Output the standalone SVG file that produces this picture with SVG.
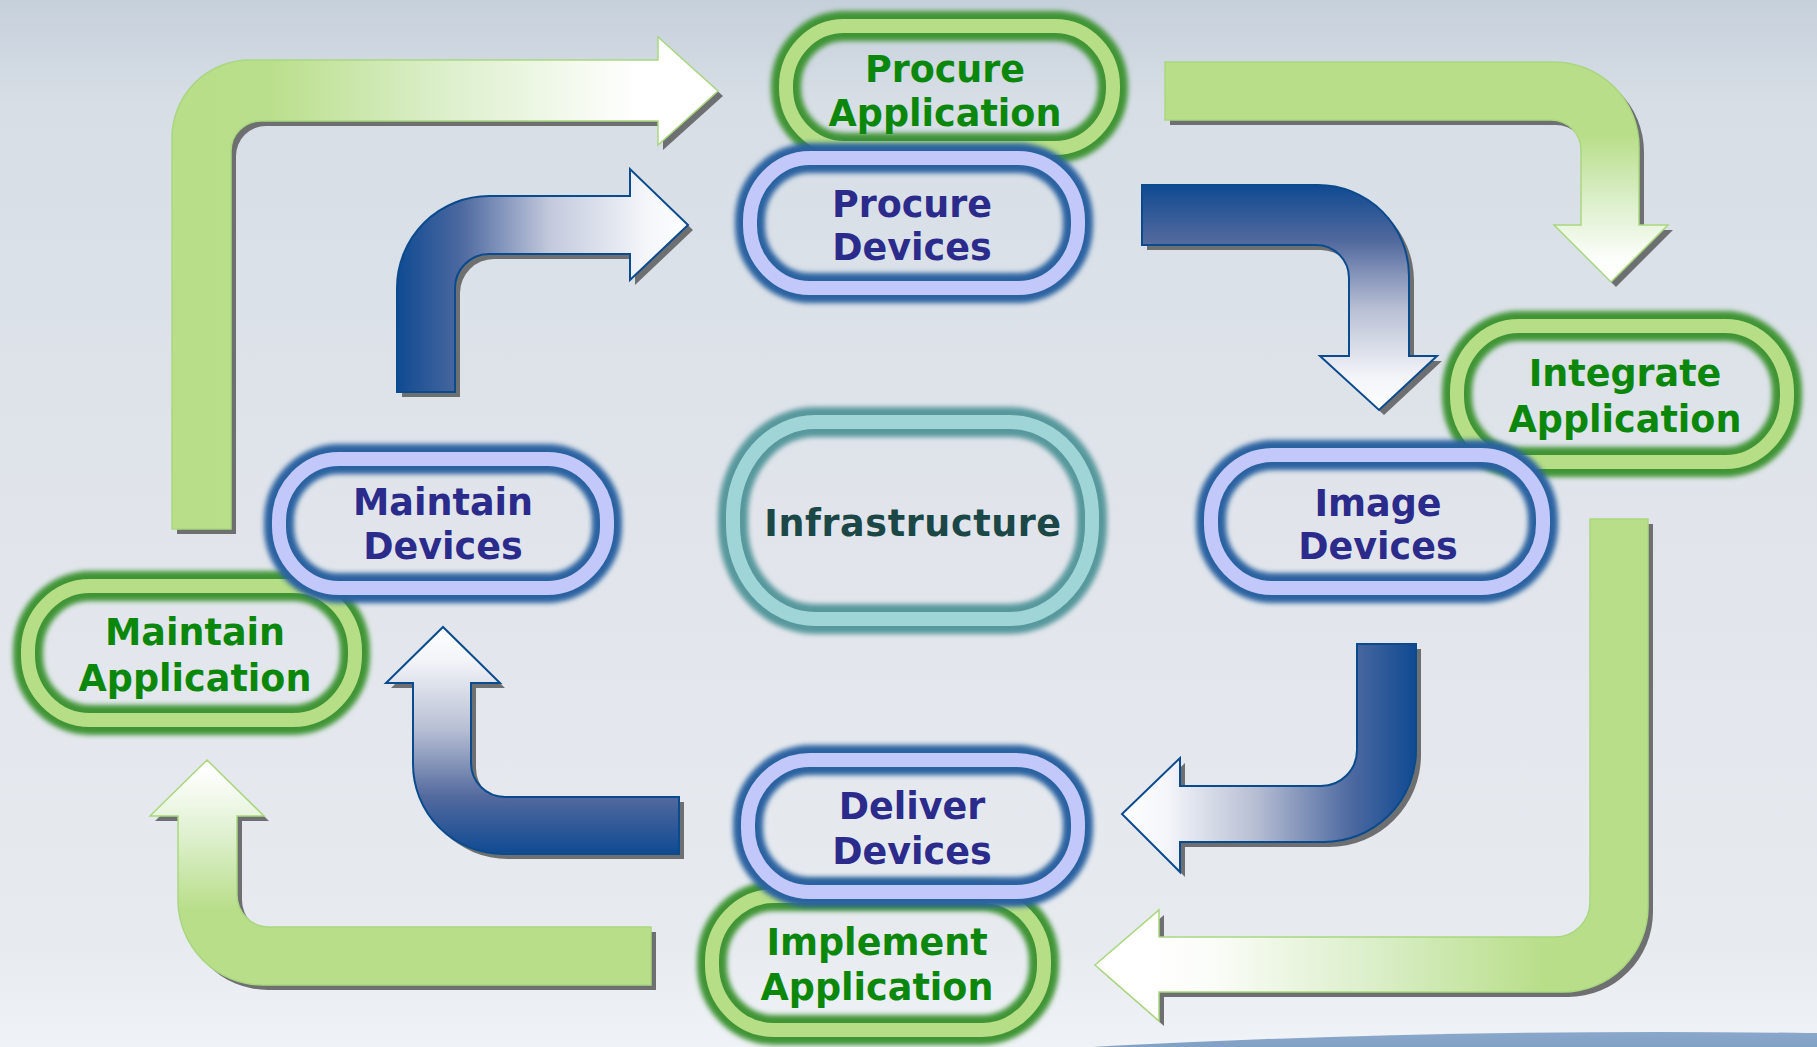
<svg xmlns="http://www.w3.org/2000/svg" xmlns:xlink="http://www.w3.org/1999/xlink" width="1817" height="1047" viewBox="0 0 1817 1047">
<defs>
<style>
.t{font-family:"DejaVu Sans",Verdana,sans-serif;font-weight:bold;font-size:36.5px;text-anchor:middle}
.tg{fill:#0b870b}
.tb{fill:#2b2b8c}
.tt{fill:#1c4747}
.ring-glow{fill:none;stroke-width:30;filter:url(#soft)}
.ring{fill:none;stroke-width:14}
.g .ring-glow{stroke:#3f9436}
.g .ring{stroke:#b6de86}
.b .ring-glow{stroke:#2a62a0}
.b .ring{stroke:#c3c8fa}
.c .ring-glow{stroke:#56989c}
.c .ring{stroke:#a0d5d8}
.shadow{fill:#6e6f71}
.ga{stroke:#a9d77f;stroke-width:1.5}
.ba{stroke:#0a4b8e;stroke-width:2}
</style>
<filter id="soft" x="-10%" y="-20%" width="120%" height="140%"><feGaussianBlur stdDeviation="2.8"/></filter>
<linearGradient id="bg" x1="0" y1="0" x2="0" y2="1">
<stop offset="0" stop-color="#c6d0db"/>
<stop offset="0.1" stop-color="#d7dee6"/>
<stop offset="0.5" stop-color="#e1e5eb"/>
<stop offset="0.9" stop-color="#e7ebf0"/>
<stop offset="1" stop-color="#eff2f6"/>
</linearGradient>
<linearGradient id="arc" x1="0" y1="0" x2="0" y2="1">
<stop offset="0" stop-color="#8aa8ca"/>
<stop offset="0.15" stop-color="#6a8fb8"/>
<stop offset="1" stop-color="#4a6f9c"/>
</linearGradient>
<radialGradient id="glowbot" cx="0.5" cy="1" r="0.6">
<stop offset="0" stop-color="#ffffff" stop-opacity="0.9"/>
<stop offset="1" stop-color="#ffffff" stop-opacity="0"/>
</radialGradient>
<linearGradient id="gG1" gradientUnits="userSpaceOnUse" x1="172" y1="0" x2="718" y2="0">
<stop offset="0" stop-color="#b8de89"/>
<stop offset="0.18" stop-color="#badf8c"/>
<stop offset="0.5" stop-color="#dcefcb"/>
<stop offset="0.85" stop-color="#ffffff"/>
<stop offset="1" stop-color="#ffffff"/>
</linearGradient>
<linearGradient id="gG2" gradientUnits="userSpaceOnUse" x1="0" y1="135" x2="0" y2="282">
<stop offset="0" stop-color="#b8de89"/>
<stop offset="0.45" stop-color="#dcefcb"/>
<stop offset="0.85" stop-color="#fcfefb"/>
<stop offset="1" stop-color="#ffffff"/>
</linearGradient>
<linearGradient id="gG3" gradientUnits="userSpaceOnUse" x1="1545" y1="0" x2="1150" y2="0">
<stop offset="0" stop-color="#b8de89"/>
<stop offset="0.45" stop-color="#dcefcb"/>
<stop offset="0.85" stop-color="#fbfdf9"/>
<stop offset="1" stop-color="#ffffff"/>
</linearGradient>
<linearGradient id="gG4" gradientUnits="userSpaceOnUse" x1="0" y1="910" x2="0" y2="770">
<stop offset="0" stop-color="#b8de89"/>
<stop offset="0.5" stop-color="#dcefcb"/>
<stop offset="1" stop-color="#ffffff"/>
</linearGradient>
<linearGradient id="gB1" gradientUnits="userSpaceOnUse" x1="397" y1="0" x2="690" y2="0">
<stop offset="0" stop-color="#0f4a92"/>
<stop offset="0.22" stop-color="#4d69a0"/>
<stop offset="0.52" stop-color="#c2c9dc"/>
<stop offset="0.85" stop-color="#f4f6fa"/>
<stop offset="1" stop-color="#ffffff"/>
</linearGradient>
<linearGradient id="gB2" gradientUnits="userSpaceOnUse" x1="0" y1="185" x2="0" y2="410">
<stop offset="0" stop-color="#0f4a92"/>
<stop offset="0.25" stop-color="#52699e"/>
<stop offset="0.55" stop-color="#b8bfd4"/>
<stop offset="0.85" stop-color="#f2f4f8"/>
<stop offset="1" stop-color="#ffffff"/>
</linearGradient>
<linearGradient id="gB3" gradientUnits="userSpaceOnUse" x1="1416" y1="0" x2="1122" y2="0">
<stop offset="0" stop-color="#0f4a92"/>
<stop offset="0.22" stop-color="#4d69a0"/>
<stop offset="0.55" stop-color="#b8bfd4"/>
<stop offset="0.85" stop-color="#f4f6fa"/>
<stop offset="1" stop-color="#ffffff"/>
</linearGradient>
<linearGradient id="gB4" gradientUnits="userSpaceOnUse" x1="0" y1="854" x2="0" y2="627">
<stop offset="0" stop-color="#0f4a92"/>
<stop offset="0.25" stop-color="#52699e"/>
<stop offset="0.55" stop-color="#b8bfd4"/>
<stop offset="0.85" stop-color="#f2f4f8"/>
<stop offset="1" stop-color="#ffffff"/>
</linearGradient>
<path id="pG1" d="M172,529 L172,138 A78,78 0 0 1 250,60 L658,60 L658,37 L718,91 L658,145 L658,121 L261,121 A30,30 0 0 0 231,151 L231,529 Z"/>
<path id="pG2" d="M1165,62 L1554,62 A85,85 0 0 1 1639,147 L1639,225 L1668,225 L1611,282 L1554,225 L1581,225 L1581,150 A30,30 0 0 0 1551,120 L1165,120 Z"/>
<path id="pG3" d="M1648,519 L1648,907 A85,85 0 0 1 1563,992 L1159,992 L1159,1021 L1095,965 L1159,910 L1159,937 L1555,937 A35,35 0 0 0 1590,902 L1590,519 Z"/>
<path id="pG4" d="M651,927 L651,985 L263,985 A85,85 0 0 1 178,900 L178,816 L150,816 L207,760 L264,816 L237,816 L237,895 A32,32 0 0 0 269,927 Z"/>
<path id="pB1" d="M397,392 L397,288 A92,92 0 0 1 489,196 L630,196 L630,169 L688,225 L630,280 L630,254 L489,254 A34,34 0 0 0 455,288 L455,392 Z"/>
<path id="pB2" d="M1142,185 L1318,185 A91,91 0 0 1 1409,276 L1409,356 L1437,356 L1379,410 L1320,356 L1349,356 L1349,278 A33,33 0 0 0 1316,245 L1142,245 Z"/>
<path id="pB3" d="M1416,644 L1416,750 A92,92 0 0 1 1324,842 L1180,842 L1180,872 L1122,814 L1180,758 L1180,786 L1321,786 A36,36 0 0 0 1357,750 L1357,644 Z"/>
<path id="pB4" d="M679,797 L679,854 L503,854 A90,90 0 0 1 413,764 L413,683 L386,683 L443,627 L500,683 L471,683 L471,763 A34,34 0 0 0 505,797 Z"/>
</defs>

<g id="background">
<rect x="0" y="0" width="1817" height="1047" fill="url(#bg)"/>
<ellipse cx="1450" cy="1040" rx="520" ry="60" fill="url(#glowbot)"/>
<ellipse cx="1660" cy="1200" rx="1375" ry="168" fill="url(#arc)"/>
</g>

<g id="connectors">
<use xlink:href="#pG1" href="#pG1" class="shadow" transform="translate(5,5)"/>
<use xlink:href="#pG1" href="#pG1" class="ga" fill="url(#gG1)"/>
<use xlink:href="#pG2" href="#pG2" class="shadow" transform="translate(5,5)"/>
<use xlink:href="#pG2" href="#pG2" class="ga" fill="url(#gG2)"/>
<use xlink:href="#pG3" href="#pG3" class="shadow" transform="translate(5,5)"/>
<use xlink:href="#pG3" href="#pG3" class="ga" fill="url(#gG3)"/>
<use xlink:href="#pG4" href="#pG4" class="shadow" transform="translate(5,5)"/>
<use xlink:href="#pG4" href="#pG4" class="ga" fill="url(#gG4)"/>
<use xlink:href="#pB1" href="#pB1" class="shadow" transform="translate(5,5)"/>
<use xlink:href="#pB1" href="#pB1" class="ba" fill="url(#gB1)"/>
<use xlink:href="#pB2" href="#pB2" class="shadow" transform="translate(5,5)"/>
<use xlink:href="#pB2" href="#pB2" class="ba" fill="url(#gB2)"/>
<use xlink:href="#pB3" href="#pB3" class="shadow" transform="translate(5,5)"/>
<use xlink:href="#pB3" href="#pB3" class="ba" fill="url(#gB3)"/>
<use xlink:href="#pB4" href="#pB4" class="shadow" transform="translate(5,5)"/>
<use xlink:href="#pB4" href="#pB4" class="ba" fill="url(#gB4)"/>
</g>

<g id="procure-application" class="g">
<rect class="ring-glow" x="786" y="26" width="327" height="122" rx="58" ry="60"/>
<rect class="ring" x="786" y="26" width="327" height="122" rx="58" ry="60"/>
<text class="t tg" x="945" y="82">Procure</text>
<text class="t tg" x="945" y="126">Application</text>
</g>

<g id="procure-devices" class="b">
<rect class="ring-glow" x="750" y="158" width="328" height="130" rx="60" ry="63"/>
<rect class="ring" x="750" y="158" width="328" height="130" rx="60" ry="63"/>
<text class="t tb" x="912" y="217">Procure</text>
<text class="t tb" x="912" y="260">Devices</text>
</g>

<g id="integrate-application" class="g">
<rect class="ring-glow" x="1457" y="326" width="330" height="136" rx="62" ry="66"/>
<rect class="ring" x="1457" y="326" width="330" height="136" rx="62" ry="66"/>
<text class="t tg" x="1625" y="386">Integrate</text>
<text class="t tg" x="1625" y="432">Application</text>
</g>

<g id="image-devices" class="b">
<rect class="ring-glow" x="1211" y="455" width="332" height="133" rx="62" ry="64"/>
<rect class="ring" x="1211" y="455" width="332" height="133" rx="62" ry="64"/>
<text class="t tb" x="1378" y="516">Image</text>
<text class="t tb" x="1378" y="559">Devices</text>
</g>

<g id="infrastructure" class="c">
<rect class="ring-glow" x="733" y="422" width="359" height="197" rx="82" ry="94"/>
<rect class="ring" x="733" y="422" width="359" height="197" rx="82" ry="94"/>
<text class="t tt" x="913" y="536" letter-spacing="0.6">Infrastructure</text>
</g>

<g id="maintain-application" class="g">
<rect class="ring-glow" x="28" y="586" width="327" height="134" rx="62" ry="65"/>
<rect class="ring" x="28" y="586" width="327" height="134" rx="62" ry="65"/>
<text class="t tg" x="195" y="645">Maintain</text>
<text class="t tg" x="195" y="691">Application</text>
</g>

<g id="maintain-devices" class="b">
<rect class="ring-glow" x="279" y="459" width="328" height="129" rx="60" ry="62"/>
<rect class="ring" x="279" y="459" width="328" height="129" rx="60" ry="62"/>
<text class="t tb" x="443" y="515">Maintain</text>
<text class="t tb" x="443" y="559">Devices</text>
</g>

<g id="implement-application" class="g">
<rect class="ring-glow" x="712" y="896" width="332" height="134" rx="62" ry="65"/>
<rect class="ring" x="712" y="896" width="332" height="134" rx="62" ry="65"/>
<text class="t tg" x="877" y="955">Implement</text>
<text class="t tg" x="877" y="1000">Application</text>
</g>

<g id="deliver-devices" class="b">
<rect class="ring-glow" x="748" y="760" width="330" height="132" rx="62" ry="64"/>
<rect class="ring" x="748" y="760" width="330" height="132" rx="62" ry="64"/>
<text class="t tb" x="912" y="819">Deliver</text>
<text class="t tb" x="912" y="864">Devices</text>
</g>
</svg>
